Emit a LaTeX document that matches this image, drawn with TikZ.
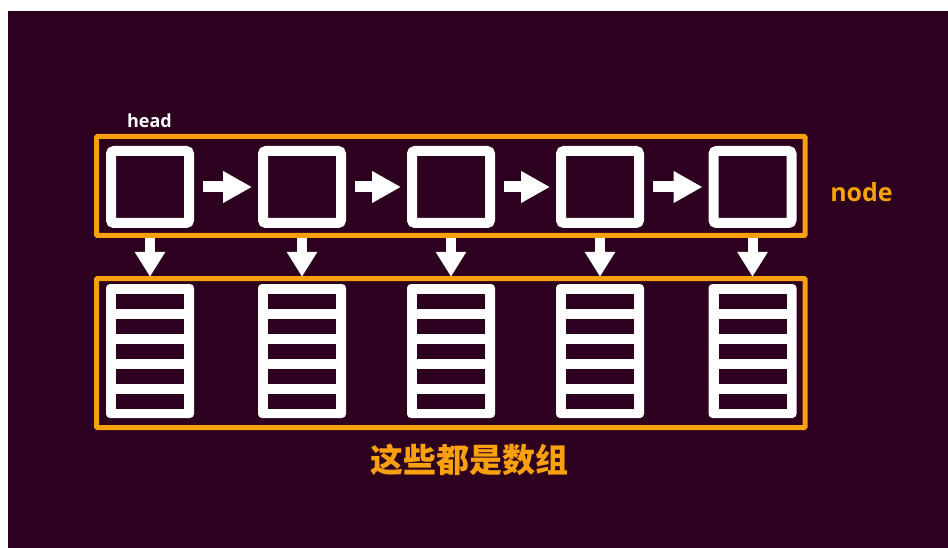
\documentclass[tikz,border=0pt]{standalone}
\usepackage{fontspec}
\setmainfont{Open Sans}
\newfontfamily\cjk{Noto Sans CJK SC}
\usetikzlibrary{arrows.meta}
\definecolor{bgdark}{HTML}{2C001E}
\definecolor{amber}{HTML}{F9A00E}
\tikzset{
  sq/.style={draw=white, line width=10pt, rounded corners=3pt, minimum width=78pt, minimum height=72pt, inner sep=0pt},
  arr/.style={fill=white, rounded corners=4pt, minimum width=88pt, minimum height=134pt, inner sep=0pt},
  slot/.style={fill=bgdark},
  obox/.style={draw=amber, line width=5pt, rounded corners=1pt},
  harrow/.style={draw=white, line width=11pt, -{Triangle[length=29pt,width=30pt]}, shorten <=9pt, shorten >=6pt},
  varrow/.style={draw=white, line width=10pt, -{Triangle[length=25pt,width=29pt]}, shorten <=10pt, shorten >=7pt},
  lbl/.style={font=\bfseries, inner sep=0pt}
}
\begin{document}
\begin{tikzpicture}[x=1pt,y=-1pt]
\useasboundingbox (0,0) rectangle (948,548);
\fill[white] (0,0) rectangle (948,548);
\fill[bgdark] (8,11) rectangle (948,548);
% orange boxes
\coordinate (tb1) at (96.5,136.5);
\coordinate (tb2) at (805,235.5);
\coordinate (bb1) at (96.5,278.5);
\coordinate (bb2) at (805,427.5);
\draw[obox] (tb1) rectangle (tb2);
\draw[obox] (bb1) rectangle (bb2);
% nodes
\foreach \i/\x in {1/150,2/302,3/451,4/600,5/752.5}{
  \node[sq] (s\i) at (\x,187) {};
  \node[arr] (a\i) at (\x,351) {};
  \foreach \dy in {-50,-25,0,25,50}{
    \fill[slot] (\x-34,351+\dy-7.5) rectangle (\x+34,351+\dy+7.5);
  }
  \draw[varrow] (s\i.south) -- (a\i.north);
}
\foreach \i/\j in {1/2,2/3,3/4,4/5}{
  \draw[harrow] (s\i.east) -- (s\j.west);
}
% labels
\node[lbl, text=white, font=\bfseries\fontsize{18}{20}\selectfont, anchor=base] (head) at (149.5,127.5) {head};
\node[lbl, text=amber, font=\bfseries\fontsize{25}{28}\selectfont, anchor=base] (nodelbl) at (861.5,201.5) {node};
\node[lbl, text=amber, font=\cjk\bfseries\fontsize{33}{36}\selectfont] (arrays) at (469,460) {这些都是数组};
\end{tikzpicture}
\end{document}
